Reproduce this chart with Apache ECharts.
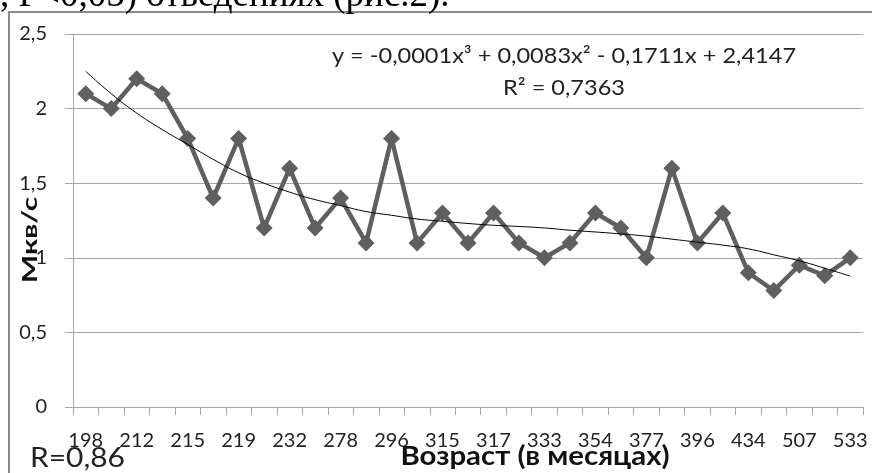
<!DOCTYPE html>
<html>
<head>
<meta charset="utf-8">
<style>
  html, body { margin: 0; padding: 0; background: #fff; }
  #chart { width: 872px; height: 473px; }
</style>
<script src="https://cdn.jsdelivr.net/npm/echarts@6.0.0/dist/echarts.min.js"></script>
</head>
<body>
<div id="chart"></div>
<script>
// age in months (only every other label is printed on the axis)
const ages = [
  "198", "204", "212", "213", "215", "217", "219", "225", "232", "260", "278",
  "290", "296", "305", "315", "316", "317", "325", "333", "345", "354", "365",
  "377", "385", "396", "415", "434", "470", "507", "520", "533"
];
// Мкв/с
const values = [
  2.1, 2.0, 2.2, 2.1, 1.8, 1.4, 1.8, 1.2, 1.6, 1.2, 1.4,
  1.1, 1.8, 1.1, 1.3, 1.1, 1.3, 1.1, 1.0, 1.1, 1.3, 1.2,
  1.0, 1.6, 1.1, 1.3, 0.9, 0.78, 0.95, 0.88, 1.0
];
// polynomial trend line
const trend = [
  2.25, 2.10, 1.97, 1.86, 1.76, 1.66, 1.57, 1.50, 1.44, 1.39, 1.35,
  1.31, 1.285, 1.26, 1.245, 1.23, 1.218, 1.21, 1.20, 1.185, 1.173, 1.16,
  1.145, 1.125, 1.105, 1.085, 1.06, 1.02, 0.98, 0.93, 0.877
];
const yTicks = [0, 0.5, 1, 1.5, 2, 2.5];

const myChart = echarts.init(document.getElementById("chart"));
const gridColor = "#a6a6a6";
const font = "Lato";

const option = {
  backgroundColor: "#fff",
  animation: false,
  grid: { left: 73, right: 9, top: 34, bottom: 66, containLabel: false, outerBoundsMode: "none" },
  xAxis: {
    type: "category",
    data: ages,
    boundaryGap: true,
    axisLine: { lineStyle: { color: gridColor, width: 1 } },
    axisTick: { show: true, interval: 0, length: 8, lineStyle: { color: gridColor } },
    axisLabel: {
      interval: 1,
      margin: 24,
      color: "#222",
      fontFamily: font,
      fontSize: 20
    },
    splitLine: { show: false }
  },
  yAxis: {
    type: "value",
    min: yTicks[0],
    max: yTicks[yTicks.length - 1],
    interval: 0.5,
    axisLine: { show: true, lineStyle: { color: gridColor, width: 1 } },
    axisTick: { show: true, length: 8, lineStyle: { color: gridColor } },
    axisLabel: {
      margin: 26,
      color: "#222",
      fontFamily: font,
      fontSize: 20,
      formatter: (v) => String(v).replace(".", ",")
    },
    splitLine: { show: true, lineStyle: { color: gridColor, width: 1 } }
  },
  graphic: [
    {
      type: "rect",
      shape: { x: 9, y: 12, width: 900, height: 500 },
      style: { fill: "none", stroke: "#8c8c8c", lineWidth: 2 },
      silent: true
    },
    {
      type: "text",
      x: 0,
      y: 15,
      style: {
        text: ", Р<0,05) отведениях (рис.2).",
        font: "37px 'Liberation Serif'",
        fill: "#000",
        verticalAlign: "bottom"
      }
    },
    {
      // y axis name
      type: "text",
      x: 31,
      y: 240,
      rotation: Math.PI / 2,
      scaleX: 1.5,
      style: {
        text: "Мкв/с",
        font: "bold 20px " + font,
        fill: "#111",
        align: "center",
        verticalAlign: "middle"
      }
    },
    {
      type: "text",
      x: 564,
      y: 56,
      scaleX: 1.07,
      style: {
        text: "y = -0,0001x³ + 0,0083x² - 0,1711x + 2,4147",
        font: "22px " + font,
        fill: "#222",
        align: "center",
        verticalAlign: "middle"
      }
    },
    {
      type: "text",
      x: 564,
      y: 88,
      scaleX: 1.07,
      style: {
        text: "R² = 0,7363",
        font: "22px " + font,
        fill: "#222",
        align: "center",
        verticalAlign: "middle"
      }
    },
    {
      type: "text",
      x: 30,
      y: 459,
      scaleX: 1.15,
      style: {
        text: "R=0,86",
        font: "26px " + font,
        fill: "#222",
        align: "left",
        verticalAlign: "middle"
      }
    },
    {
      type: "text",
      x: 535,
      y: 457,
      scaleX: 1.13,
      style: {
        text: "Возраст (в месяцах)",
        font: "bold 26px " + font,
        fill: "#111",
        align: "center",
        verticalAlign: "middle"
      }
    }
  ],
  series: [
    {
      name: "Мкв/с",
      type: "line",
      data: values,
      symbol: "diamond",
      symbolSize: 17,
      showAllSymbol: true,
      lineStyle: { color: "#5f5f5f", width: 4.5 },
      itemStyle: { color: "#5f5f5f" },
      z: 2
    },
    {
      name: "trend",
      type: "line",
      data: trend,
      smooth: true,
      symbol: "none",
      lineStyle: { color: "#000", width: 1 },
      z: 3
    }
  ]
};
myChart.setOption(option);
</script>
</body>
</html>
